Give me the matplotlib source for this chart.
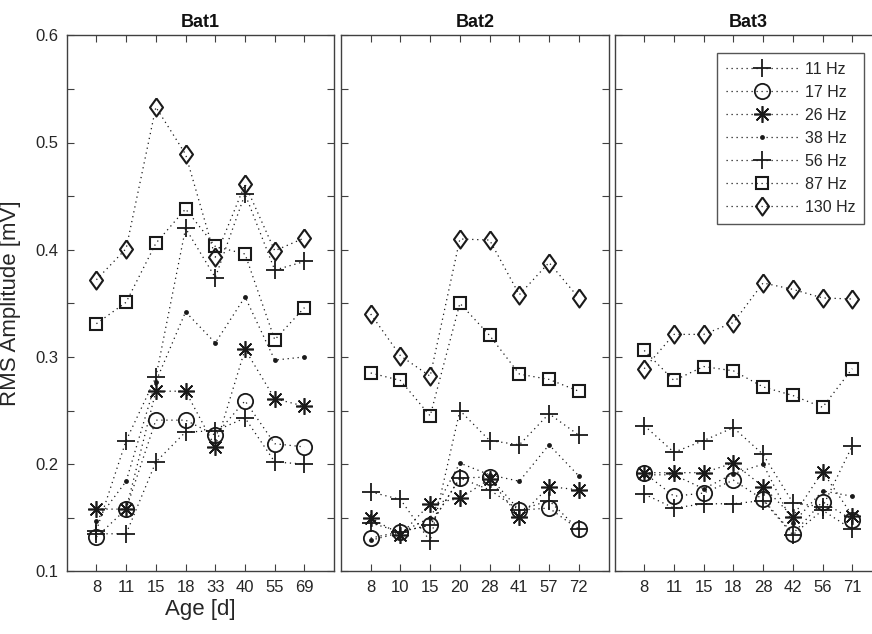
import numpy as np
import matplotlib
matplotlib.use('Agg')
import matplotlib.pyplot as plt

plt.rcParams['font.family'] = ['Liberation Sans', 'DejaVu Sans']

# ages (days) per bat
ages_bat1 = [8, 11, 15, 18, 33, 40, 55, 69]
ages_bat2 = [8, 10, 15, 20, 28, 41, 57, 72]
ages_bat3 = [8, 11, 15, 18, 28, 42, 56, 71]

freq_labels = ['11 Hz', '17 Hz', '26 Hz', '38 Hz', '56 Hz', '87 Hz', '130 Hz']

# RMS amplitude [mV], one list per frequency
bat1_11 = [0.135, 0.135, 0.202, 0.230, 0.231, 0.243, 0.202, 0.200]
bat1_17 = [0.132, 0.158, 0.241, 0.241, 0.227, 0.259, 0.219, 0.216]
bat1_26 = [0.158, 0.158, 0.268, 0.268, 0.216, 0.307, 0.261, 0.254]
bat1_38 = [0.147, 0.184, 0.277, 0.342, 0.313, 0.356, 0.297, 0.300]
bat1_56 = [0.138, 0.222, 0.281, 0.420, 0.374, 0.452, 0.381, 0.389]
bat1_87 = [0.331, 0.351, 0.406, 0.438, 0.403, 0.396, 0.316, 0.346]
bat1_130 = [0.372, 0.401, 0.533, 0.489, 0.393, 0.461, 0.399, 0.411]

bat2_11 = [0.145, 0.137, 0.143, 0.187, 0.176, 0.157, 0.166, 0.139]
bat2_17 = [0.131, 0.137, 0.143, 0.187, 0.188, 0.157, 0.159, 0.139]
bat2_26 = [0.150, 0.134, 0.163, 0.168, 0.186, 0.151, 0.179, 0.176]
bat2_38 = [0.129, 0.136, 0.150, 0.201, 0.190, 0.184, 0.218, 0.189]
bat2_56 = [0.174, 0.167, 0.128, 0.250, 0.222, 0.218, 0.247, 0.227]
bat2_87 = [0.285, 0.278, 0.245, 0.350, 0.320, 0.284, 0.279, 0.268]
bat2_130 = [0.340, 0.301, 0.282, 0.410, 0.409, 0.358, 0.388, 0.355]

bat3_11 = [0.172, 0.159, 0.163, 0.163, 0.166, 0.134, 0.157, 0.139]
bat3_17 = [0.192, 0.170, 0.173, 0.185, 0.167, 0.135, 0.165, 0.148]
bat3_26 = [0.192, 0.192, 0.192, 0.201, 0.179, 0.151, 0.193, 0.152]
bat3_38 = [0.190, 0.190, 0.177, 0.191, 0.200, 0.145, 0.175, 0.170]
bat3_56 = [0.236, 0.211, 0.222, 0.234, 0.209, 0.164, 0.160, 0.217]
bat3_87 = [0.306, 0.278, 0.291, 0.287, 0.272, 0.264, 0.253, 0.289]
bat3_130 = [0.289, 0.321, 0.321, 0.332, 0.369, 0.363, 0.355, 0.354]

bats = [
    ('Bat1', ages_bat1, [bat1_11, bat1_17, bat1_26, bat1_38, bat1_56, bat1_87, bat1_130]),
    ('Bat2', ages_bat2, [bat2_11, bat2_17, bat2_26, bat2_38, bat2_56, bat2_87, bat2_130]),
    ('Bat3', ages_bat3, [bat3_11, bat3_17, bat3_26, bat3_38, bat3_56, bat3_87, bat3_130]),
]

# matlab style diamond, a bit wider than mpl's 'd'
diamond = [(0, 1), (0.72, 0), (0, -1), (-0.72, 0), (0, 1)]

# marker style per frequency
styles = [
    dict(marker='+', ms=13, mew=1.3),
    dict(marker='o', ms=11, mew=1.3),
    dict(marker=(8, 2, 0), ms=12, mew=1.2),
    dict(marker='o', ms=3.5, mew=0, mfc='#1a1a1a'),
    dict(marker='+', ms=13, mew=1.3),
    dict(marker='s', ms=9, mew=1.5),
    dict(marker=diamond, ms=13, mew=1.5),
]

line_col = '#1a1a1a'
axis_col = '#404040'
text_col = '#262626'

fig = plt.figure(figsize=(8.72, 6.34), dpi=100)
lefts = [66.7 / 872, 341 / 872, 614.5 / 872]
bottom = 1 - 571.3 / 634
height = (571.3 - 35.3) / 634
width = 267.5 / 872

axes = []
for k, (name, ages, series) in enumerate(bats):
    ax = fig.add_axes([lefts[k], bottom, width, height])
    xpos = np.arange(1, len(ages) + 1)
    for vals, st, lab in zip(series, styles, freq_labels):
        kw = dict(st)
        kw.setdefault('mfc', 'none')
        ax.plot(xpos, vals, linestyle=(0, (1, 3)), lw=0.9, color=line_col,
                mec=line_col, label=lab, **kw)
    ax.set_xlim(0, 9)
    ax.set_ylim(0.1, 0.6)
    ax.set_xticks(xpos)
    ax.set_xticklabels([str(a) for a in ages])
    yt = np.round(np.arange(0.1, 0.6001, 0.05), 2)
    ax.set_yticks(yt)
    if k == 0:
        ax.set_yticklabels(['%.1f' % v if i % 2 == 0 else '' for i, v in enumerate(yt)])
        ax.set_ylabel('RMS Amplitude [mV]', fontsize=16, color=text_col)
        ax.yaxis.set_label_coords(-0.17, 0.5)
        ax.set_xlabel('Age [d]', fontsize=16, color=text_col, labelpad=3)
    else:
        ax.set_yticklabels([])
    ax.tick_params(direction='in', length=5, width=0.8, top=True, right=True,
                   labelsize=12, colors=axis_col, labelcolor=text_col, pad=6)
    for sp in ax.spines.values():
        sp.set_color(axis_col)
        sp.set_linewidth(1.0)
    ax.set_title(name, fontsize=13, fontweight='bold', color='#111111', pad=6)
    axes.append(ax)

leg = axes[2].legend(loc='upper right', bbox_to_anchor=(864 / 872, 1 - 53.3 / 634),
                     bbox_transform=fig.transFigure, fontsize=11.5, handlelength=4.6,
                     labelspacing=0.5, handletextpad=0.35, borderpad=0.55,
                     borderaxespad=0, fancybox=False, framealpha=1, edgecolor='#555555')
leg.get_frame().set_linewidth(1.0)
for t in leg.get_texts():
    t.set_color(text_col)

fig.savefig('out.png', dpi=100)
